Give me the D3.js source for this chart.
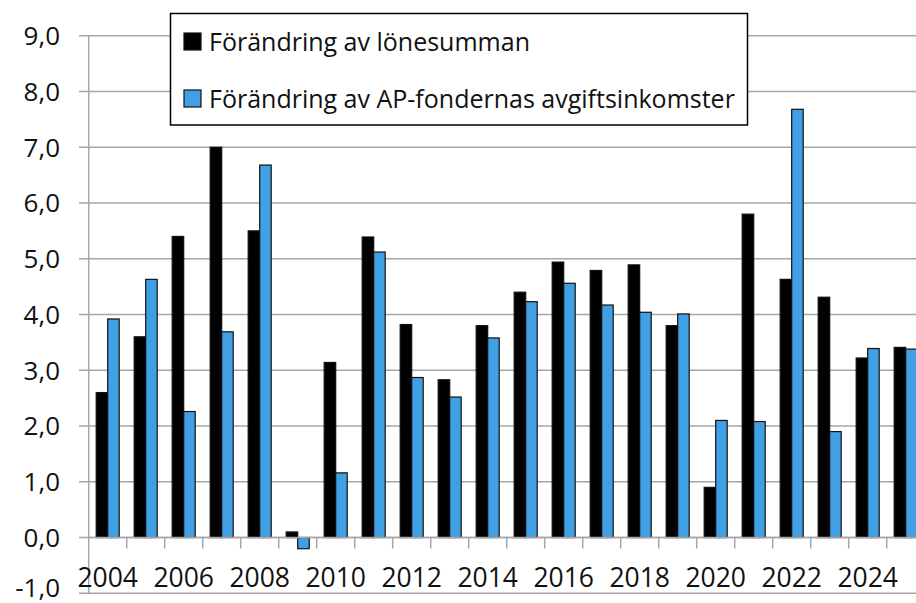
<!DOCTYPE html>
<html><head><meta charset="utf-8">
<script src="https://cdn.jsdelivr.net/npm/d3@7"></script>
<style>body{margin:0;background:#fff}svg{display:block}text{font-family:"Open Sans",Lato,sans-serif;fill:#111}</style>
</head><body><svg id="c" width="916" height="603"></svg>
<script>
const years = [2004,2005,2006,2007,2008,2009,2010,2011,2012,2013,2014,2015,2016,2017,2018,2019,2020,2021,2022,2023,2024,2025];
const lonesumman = [2.6,3.6,5.4,7.0,5.5,0.1,3.14,5.39,3.82,2.83,3.8,4.4,4.94,4.79,4.89,3.8,0.9,5.8,4.63,4.31,3.22,3.41];
const avgiftsinkomster = [3.92,4.63,2.26,3.69,6.68,-0.2,1.16,5.12,2.87,2.52,3.58,4.23,4.56,4.17,4.04,4.01,2.1,2.08,7.68,1.9,3.39,3.38];
const yTicks = [-1,0,1,2,3,4,5,6,7,8,9];
const xLabelYears = [2004,2006,2008,2010,2012,2014,2016,2018,2020,2022,2024];
const seriesNames = ["Förändring av lönesumman","Förändring av AP-fondernas avgiftsinkomster"];
const seriesColors = ["#000000","#41a0e4"];

const svg = d3.select("#c");
const W = 916, H = 603;
const left = 88.7, bandW = 38;
const x = d3.scaleBand().domain(years).range([left, left + bandW*years.length]).padding(0);
const y = d3.scaleLinear().domain([-1,9]).range([593.3,35.7]);
const gridColor = "#a6a6a6";

// gridlines with left tick stubs
svg.append("g").selectAll("line").data(yTicks).join("line")
  .attr("x1",79).attr("x2",W).attr("y1",d=>y(d)).attr("y2",d=>y(d))
  .attr("stroke",gridColor).attr("stroke-width",1.5);

// y labels
const fmt = d => d3.format(".1f")(d).replace(".",",").replace("−","-");
svg.append("g").selectAll("text").data(yTicks).join("text")
  .attr("x",60).attr("y",d=>d===-1 ? 596.5 : y(d)).attr("dy",d=>d===-1 ? 0 : "0.36em").attr("text-anchor","end")
  .attr("font-size",26).text(fmt);

// y axis line
svg.append("line").attr("x1",left).attr("x2",left).attr("y1",y(9)).attr("y2",y(-1))
  .attr("stroke",gridColor).attr("stroke-width",1.5);

// bars
const inner = 7.5, bw = 11.5;
const series = [lonesumman, avgiftsinkomster];
series.forEach((vals,i)=>{
  svg.append("g").selectAll("rect").data(years).join("rect")
    .attr("x",(d)=>x(d)+inner+i*bw)
    .attr("width",bw)
    .attr("y",(d,j)=>Math.min(y(vals[j]),y(0)))
    .attr("height",(d,j)=>Math.abs(y(vals[j])-y(0)))
    .attr("fill",seriesColors[i]).attr("stroke","#111").attr("stroke-width",1.2);
});

// x axis line at zero and ticks
svg.append("line").attr("x1",left).attr("x2",W).attr("y1",y(0)).attr("y2",y(0))
  .attr("stroke",gridColor).attr("stroke-width",1.5);
svg.append("g").selectAll("line").data(years.slice(1)).join("line")
  .attr("x1",d=>x(d)).attr("x2",d=>x(d)).attr("y1",y(0)).attr("y2",y(0)+11)
  .attr("stroke",gridColor).attr("stroke-width",1.5);

// x labels
svg.append("g").selectAll("text").data(xLabelYears).join("text")
  .attr("x",d=>x(d)+bandW/2).attr("y",586.7).attr("text-anchor","middle")
  .attr("font-size",26.5).text(d=>d);

// legend
const lg = svg.append("g");
lg.append("rect").attr("x",170.5).attr("y",13.5).attr("width",577).attr("height",111.5)
  .attr("fill","#fff").attr("stroke","#000").attr("stroke-width",1.5);
seriesNames.forEach((n,i)=>{
  const cy = 41.5 + i*57;
  lg.append("rect").attr("x",184).attr("y",cy-8.5).attr("width",17).attr("height",17)
    .attr("fill",seriesColors[i]).attr("stroke","#111").attr("stroke-width",1.2);
  lg.append("text").attr("x",209).attr("y",cy).attr("dy","0.36em").attr("font-size",25).text(n);
});
</script></body></html>
